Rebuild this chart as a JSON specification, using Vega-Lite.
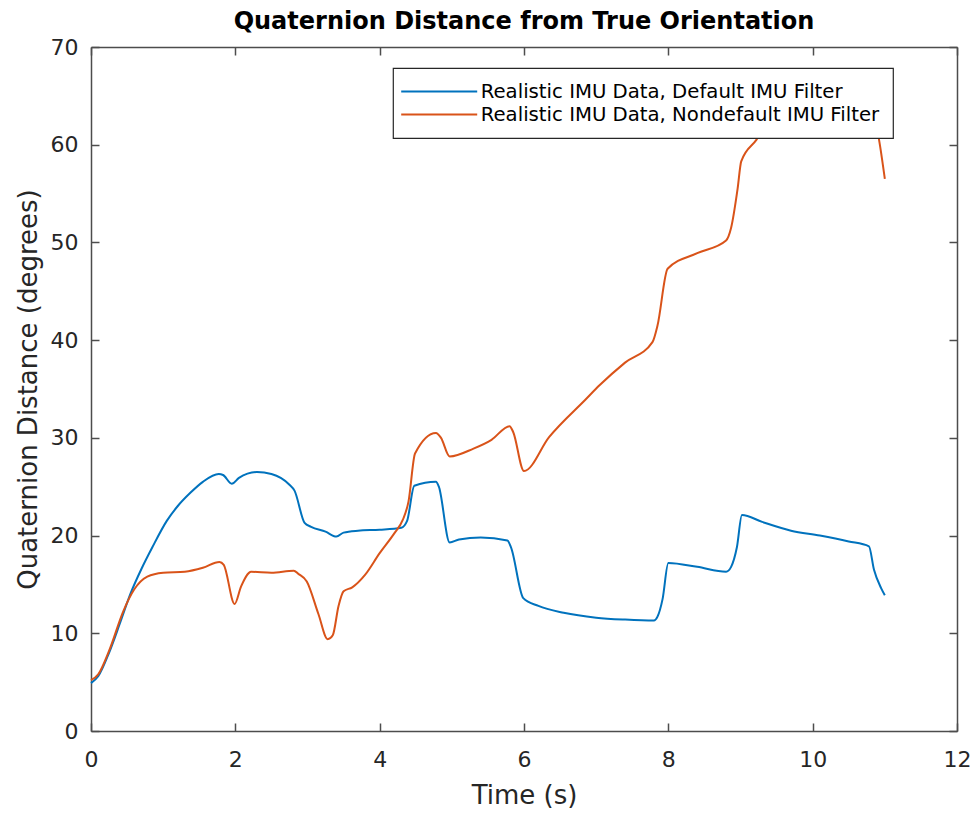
{
  "$schema": "https://vega.github.io/schema/vega-lite/v6.json",
  "autosize": {"type": "none"},
  "padding": {"left": 91, "top": 47, "right": 19, "bottom": 86},
  "width": 866,
  "height": 684,
  "background": "white",
  "title": {
    "text": "Quaternion Distance from True Orientation",
    "font": "DejaVu Sans",
    "fontSize": 24,
    "fontWeight": "bold",
    "color": "#000000",
    "anchor": "middle",
    "frame": "group",
    "baseline": "alphabetic",
    "offset": -17
  },
  "datasets": {
    "pts": [
      {"t": 0.00, "d": 4.9, "s": "Realistic IMU Data, Default IMU Filter"},
      {"t": 0.10, "d": 5.6, "s": "Realistic IMU Data, Default IMU Filter"},
      {"t": 0.25, "d": 8.0, "s": "Realistic IMU Data, Default IMU Filter"},
      {"t": 0.40, "d": 11.0, "s": "Realistic IMU Data, Default IMU Filter"},
      {"t": 0.55, "d": 14.1, "s": "Realistic IMU Data, Default IMU Filter"},
      {"t": 0.70, "d": 16.6, "s": "Realistic IMU Data, Default IMU Filter"},
      {"t": 0.85, "d": 18.8, "s": "Realistic IMU Data, Default IMU Filter"},
      {"t": 1.05, "d": 21.5, "s": "Realistic IMU Data, Default IMU Filter"},
      {"t": 1.20, "d": 23.0, "s": "Realistic IMU Data, Default IMU Filter"},
      {"t": 1.38, "d": 24.4, "s": "Realistic IMU Data, Default IMU Filter"},
      {"t": 1.55, "d": 25.5, "s": "Realistic IMU Data, Default IMU Filter"},
      {"t": 1.77, "d": 26.3, "s": "Realistic IMU Data, Default IMU Filter"},
      {"t": 1.83, "d": 26.2, "s": "Realistic IMU Data, Default IMU Filter"},
      {"t": 1.95, "d": 25.3, "s": "Realistic IMU Data, Default IMU Filter"},
      {"t": 2.05, "d": 25.9, "s": "Realistic IMU Data, Default IMU Filter"},
      {"t": 2.30, "d": 26.5, "s": "Realistic IMU Data, Default IMU Filter"},
      {"t": 2.50, "d": 26.3, "s": "Realistic IMU Data, Default IMU Filter"},
      {"t": 2.75, "d": 25.2, "s": "Realistic IMU Data, Default IMU Filter"},
      {"t": 2.82, "d": 24.6, "s": "Realistic IMU Data, Default IMU Filter"},
      {"t": 2.96, "d": 21.3, "s": "Realistic IMU Data, Default IMU Filter"},
      {"t": 3.05, "d": 20.9, "s": "Realistic IMU Data, Default IMU Filter"},
      {"t": 3.25, "d": 20.4, "s": "Realistic IMU Data, Default IMU Filter"},
      {"t": 3.40, "d": 19.9, "s": "Realistic IMU Data, Default IMU Filter"},
      {"t": 3.50, "d": 20.3, "s": "Realistic IMU Data, Default IMU Filter"},
      {"t": 3.70, "d": 20.5, "s": "Realistic IMU Data, Default IMU Filter"},
      {"t": 4.00, "d": 20.6, "s": "Realistic IMU Data, Default IMU Filter"},
      {"t": 4.30, "d": 20.8, "s": "Realistic IMU Data, Default IMU Filter"},
      {"t": 4.38, "d": 21.5, "s": "Realistic IMU Data, Default IMU Filter"},
      {"t": 4.48, "d": 25.1, "s": "Realistic IMU Data, Default IMU Filter"},
      {"t": 4.78, "d": 25.5, "s": "Realistic IMU Data, Default IMU Filter"},
      {"t": 4.82, "d": 25.0, "s": "Realistic IMU Data, Default IMU Filter"},
      {"t": 4.97, "d": 19.3, "s": "Realistic IMU Data, Default IMU Filter"},
      {"t": 5.10, "d": 19.6, "s": "Realistic IMU Data, Default IMU Filter"},
      {"t": 5.40, "d": 19.8, "s": "Realistic IMU Data, Default IMU Filter"},
      {"t": 5.77, "d": 19.5, "s": "Realistic IMU Data, Default IMU Filter"},
      {"t": 5.82, "d": 18.8, "s": "Realistic IMU Data, Default IMU Filter"},
      {"t": 5.99, "d": 13.6, "s": "Realistic IMU Data, Default IMU Filter"},
      {"t": 6.20, "d": 12.8, "s": "Realistic IMU Data, Default IMU Filter"},
      {"t": 6.55, "d": 12.1, "s": "Realistic IMU Data, Default IMU Filter"},
      {"t": 7.00, "d": 11.6, "s": "Realistic IMU Data, Default IMU Filter"},
      {"t": 7.40, "d": 11.4, "s": "Realistic IMU Data, Default IMU Filter"},
      {"t": 7.80, "d": 11.3, "s": "Realistic IMU Data, Default IMU Filter"},
      {"t": 7.85, "d": 11.7, "s": "Realistic IMU Data, Default IMU Filter"},
      {"t": 7.92, "d": 13.5, "s": "Realistic IMU Data, Default IMU Filter"},
      {"t": 8.00, "d": 17.2, "s": "Realistic IMU Data, Default IMU Filter"},
      {"t": 8.40, "d": 16.8, "s": "Realistic IMU Data, Default IMU Filter"},
      {"t": 8.80, "d": 16.3, "s": "Realistic IMU Data, Default IMU Filter"},
      {"t": 8.87, "d": 16.8, "s": "Realistic IMU Data, Default IMU Filter"},
      {"t": 8.95, "d": 18.8, "s": "Realistic IMU Data, Default IMU Filter"},
      {"t": 9.02, "d": 22.1, "s": "Realistic IMU Data, Default IMU Filter"},
      {"t": 9.30, "d": 21.4, "s": "Realistic IMU Data, Default IMU Filter"},
      {"t": 9.70, "d": 20.5, "s": "Realistic IMU Data, Default IMU Filter"},
      {"t": 10.10, "d": 20.0, "s": "Realistic IMU Data, Default IMU Filter"},
      {"t": 10.50, "d": 19.4, "s": "Realistic IMU Data, Default IMU Filter"},
      {"t": 10.78, "d": 18.9, "s": "Realistic IMU Data, Default IMU Filter"},
      {"t": 10.85, "d": 16.5, "s": "Realistic IMU Data, Default IMU Filter"},
      {"t": 10.95, "d": 14.6, "s": "Realistic IMU Data, Default IMU Filter"},
      {"t": 11.00, "d": 13.9, "s": "Realistic IMU Data, Default IMU Filter"},
      {"t": 0.00, "d": 5.2, "s": "Realistic IMU Data, Nondefault IMU Filter"},
      {"t": 0.10, "d": 5.8, "s": "Realistic IMU Data, Nondefault IMU Filter"},
      {"t": 0.25, "d": 8.2, "s": "Realistic IMU Data, Nondefault IMU Filter"},
      {"t": 0.45, "d": 12.3, "s": "Realistic IMU Data, Nondefault IMU Filter"},
      {"t": 0.60, "d": 14.5, "s": "Realistic IMU Data, Nondefault IMU Filter"},
      {"t": 0.78, "d": 15.8, "s": "Realistic IMU Data, Nondefault IMU Filter"},
      {"t": 1.00, "d": 16.2, "s": "Realistic IMU Data, Nondefault IMU Filter"},
      {"t": 1.30, "d": 16.3, "s": "Realistic IMU Data, Nondefault IMU Filter"},
      {"t": 1.55, "d": 16.7, "s": "Realistic IMU Data, Nondefault IMU Filter"},
      {"t": 1.78, "d": 17.3, "s": "Realistic IMU Data, Nondefault IMU Filter"},
      {"t": 1.84, "d": 17.0, "s": "Realistic IMU Data, Nondefault IMU Filter"},
      {"t": 1.99, "d": 13.0, "s": "Realistic IMU Data, Nondefault IMU Filter"},
      {"t": 2.08, "d": 14.8, "s": "Realistic IMU Data, Nondefault IMU Filter"},
      {"t": 2.22, "d": 16.3, "s": "Realistic IMU Data, Nondefault IMU Filter"},
      {"t": 2.50, "d": 16.2, "s": "Realistic IMU Data, Nondefault IMU Filter"},
      {"t": 2.81, "d": 16.4, "s": "Realistic IMU Data, Nondefault IMU Filter"},
      {"t": 2.87, "d": 16.1, "s": "Realistic IMU Data, Nondefault IMU Filter"},
      {"t": 2.99, "d": 15.3, "s": "Realistic IMU Data, Nondefault IMU Filter"},
      {"t": 3.15, "d": 12.0, "s": "Realistic IMU Data, Nondefault IMU Filter"},
      {"t": 3.28, "d": 9.4, "s": "Realistic IMU Data, Nondefault IMU Filter"},
      {"t": 3.35, "d": 9.8, "s": "Realistic IMU Data, Nondefault IMU Filter"},
      {"t": 3.43, "d": 12.8, "s": "Realistic IMU Data, Nondefault IMU Filter"},
      {"t": 3.50, "d": 14.3, "s": "Realistic IMU Data, Nondefault IMU Filter"},
      {"t": 3.62, "d": 14.7, "s": "Realistic IMU Data, Nondefault IMU Filter"},
      {"t": 3.80, "d": 16.0, "s": "Realistic IMU Data, Nondefault IMU Filter"},
      {"t": 4.00, "d": 18.2, "s": "Realistic IMU Data, Nondefault IMU Filter"},
      {"t": 4.20, "d": 20.2, "s": "Realistic IMU Data, Nondefault IMU Filter"},
      {"t": 4.32, "d": 21.6, "s": "Realistic IMU Data, Nondefault IMU Filter"},
      {"t": 4.40, "d": 23.5, "s": "Realistic IMU Data, Nondefault IMU Filter"},
      {"t": 4.49, "d": 28.4, "s": "Realistic IMU Data, Nondefault IMU Filter"},
      {"t": 4.78, "d": 30.5, "s": "Realistic IMU Data, Nondefault IMU Filter"},
      {"t": 4.85, "d": 30.0, "s": "Realistic IMU Data, Nondefault IMU Filter"},
      {"t": 4.97, "d": 28.1, "s": "Realistic IMU Data, Nondefault IMU Filter"},
      {"t": 5.30, "d": 28.9, "s": "Realistic IMU Data, Nondefault IMU Filter"},
      {"t": 5.55, "d": 29.8, "s": "Realistic IMU Data, Nondefault IMU Filter"},
      {"t": 5.80, "d": 31.2, "s": "Realistic IMU Data, Nondefault IMU Filter"},
      {"t": 5.85, "d": 30.6, "s": "Realistic IMU Data, Nondefault IMU Filter"},
      {"t": 6.00, "d": 26.6, "s": "Realistic IMU Data, Nondefault IMU Filter"},
      {"t": 6.35, "d": 30.1, "s": "Realistic IMU Data, Nondefault IMU Filter"},
      {"t": 6.85, "d": 33.9, "s": "Realistic IMU Data, Nondefault IMU Filter"},
      {"t": 7.05, "d": 35.4, "s": "Realistic IMU Data, Nondefault IMU Filter"},
      {"t": 7.40, "d": 37.7, "s": "Realistic IMU Data, Nondefault IMU Filter"},
      {"t": 7.78, "d": 39.8, "s": "Realistic IMU Data, Nondefault IMU Filter"},
      {"t": 7.85, "d": 41.5, "s": "Realistic IMU Data, Nondefault IMU Filter"},
      {"t": 7.99, "d": 47.3, "s": "Realistic IMU Data, Nondefault IMU Filter"},
      {"t": 8.40, "d": 48.9, "s": "Realistic IMU Data, Nondefault IMU Filter"},
      {"t": 8.80, "d": 50.2, "s": "Realistic IMU Data, Nondefault IMU Filter"},
      {"t": 8.87, "d": 51.5, "s": "Realistic IMU Data, Nondefault IMU Filter"},
      {"t": 8.96, "d": 55.5, "s": "Realistic IMU Data, Nondefault IMU Filter"},
      {"t": 9.01, "d": 58.3, "s": "Realistic IMU Data, Nondefault IMU Filter"},
      {"t": 9.22, "d": 60.5, "s": "Realistic IMU Data, Nondefault IMU Filter"},
      {"t": 9.40, "d": 62.5, "s": "Realistic IMU Data, Nondefault IMU Filter"},
      {"t": 9.70, "d": 63.5, "s": "Realistic IMU Data, Nondefault IMU Filter"},
      {"t": 10.10, "d": 64.0, "s": "Realistic IMU Data, Nondefault IMU Filter"},
      {"t": 10.50, "d": 64.5, "s": "Realistic IMU Data, Nondefault IMU Filter"},
      {"t": 10.80, "d": 64.2, "s": "Realistic IMU Data, Nondefault IMU Filter"},
      {"t": 10.92, "d": 60.5, "s": "Realistic IMU Data, Nondefault IMU Filter"},
      {"t": 11.00, "d": 56.5, "s": "Realistic IMU Data, Nondefault IMU Filter"}
    ]
  },
  "data": {"name": "pts"},
  "config": {
    "view": {"stroke": null},
    "font": "DejaVu Sans",
    "axis": {
      "grid": false,
      "domainColor": "#4d4d4d",
      "domainWidth": 1.5,
      "tickColor": "#4d4d4d",
      "tickWidth": 1.5,
      "tickSize": -8,
      "labelFont": "DejaVu Sans",
      "labelFontSize": 22,
      "labelColor": "#262626",
      "titleFont": "DejaVu Sans",
      "titleFontSize": 26,
      "titleFontWeight": "normal",
      "titleColor": "#262626"
    },
    "legend": {
      "orient": "none",
      "legendX": 302,
      "legendY": 21,
      "symbolType": "M-4,0H4",
      "symbolSize": 361,
      "symbolStrokeWidth": 2,
      "symbolOffset": 22.7,
      "labelOffset": 31,
      "labelFont": "DejaVu Sans",
      "labelFontSize": 19.7,
      "labelColor": "#000000",
      "labelLimit": 700,
      "padding": 13,
      "rowPadding": 2,
      "strokeColor": "#262626",
      "strokeWidth": 1.2,
      "fillColor": "white"
    }
  },
  "layer": [
    {
      "mark": {"type": "line", "strokeWidth": 2, "interpolate": "monotone"},
      "encoding": {
        "x": {
          "field": "t", "type": "quantitative",
          "scale": {"domain": [0, 12], "nice": false, "zero": false},
          "axis": {"orient": "bottom", "values": [0, 2, 4, 6, 8, 10, 12], "title": "Time (s)", "labelPadding": 26, "titlePadding": 12, "labelFlush": false}
        },
        "y": {
          "field": "d", "type": "quantitative",
          "scale": {"domain": [0, 70], "nice": false},
          "axis": {"orient": "left", "values": [0, 10, 20, 30, 40, 50, 60, 70], "title": "Quaternion Distance (degrees)", "labelPadding": 21, "titlePadding": 9}
        },
        "color": {
          "field": "s", "type": "nominal",
          "scale": {
            "domain": ["Realistic IMU Data, Default IMU Filter", "Realistic IMU Data, Nondefault IMU Filter"],
            "range": ["#0072BD", "#D95319"]
          },
          "legend": {"title": null}
        }
      }
    },
    {
      "mark": {"type": "line", "opacity": 0},
      "encoding": {
        "x": {
          "field": "t", "type": "quantitative",
          "axis": {"orient": "top", "values": [0, 2, 4, 6, 8, 10, 12], "labels": false, "title": null}
        },
        "y": {
          "field": "d", "type": "quantitative",
          "axis": {"orient": "right", "values": [0, 10, 20, 30, 40, 50, 60, 70], "labels": false, "title": null}
        },
        "detail": {"field": "s", "type": "nominal"}
      }
    }
  ],
  "resolve": {"axis": {"x": "independent", "y": "independent"}}
}
